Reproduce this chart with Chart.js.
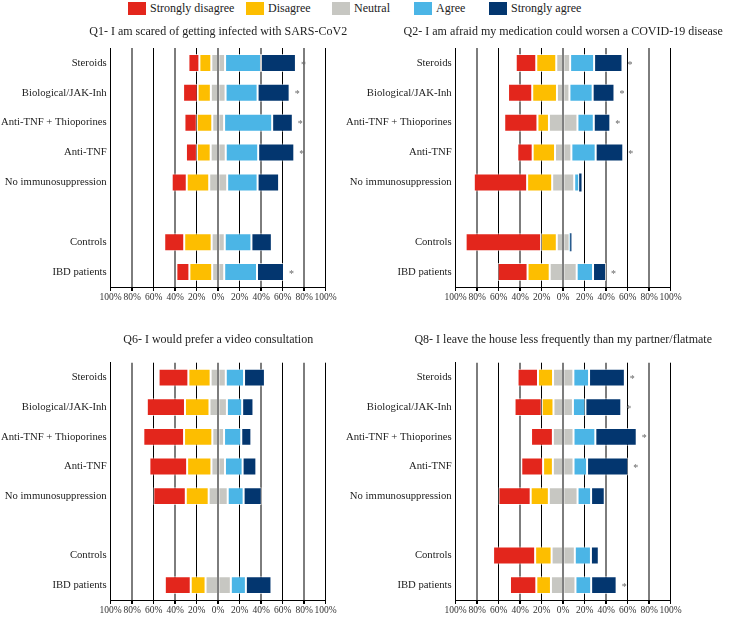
<!DOCTYPE html>
<html>
<head>
<meta charset="utf-8">
<script src="https://cdn.jsdelivr.net/npm/chart.js@4.4.1/dist/chart.umd.min.js"></script>
<style>
  body { margin: 0; background: #fff; width: 729px; height: 617px; position: relative; overflow: hidden; font-family: "Liberation Serif", "DejaVu Serif", serif; color: #222; }
  canvas { position: absolute; }
  .lg-box { position: absolute; top: 2px; width: 18px; height: 13px; }
  .lg-txt { position: absolute; top: 0px; font-size: 12px; line-height: 17px; white-space: nowrap; }
</style>
</head>
<body>
<div id="legend"></div>
<canvas id="q1" width="365" height="290" style="left:0;top:20px"></canvas>
<canvas id="q2" width="389" height="290" style="left:340px;top:20px"></canvas>
<canvas id="q6" width="365" height="297" style="left:0;top:320px"></canvas>
<canvas id="q8" width="389" height="297" style="left:340px;top:320px"></canvas>
<script>
// categories (blank row separates subgroups from the totals)
const categories = ['Steroids', 'Biological/JAK-Inh', 'Anti-TNF + Thioporines', 'Anti-TNF', 'No immunosuppression', '', 'Controls', 'IBD patients'];
const responses = ['Strongly disagree', 'Disagree', 'Neutral', 'Agree', 'Strongly agree'];
const xTicks = [-100, -80, -60, -40, -20, 0, 20, 40, 60, 80, 100];

// Q1 - scared of infection (%)
const q1StronglyDisagree = [10.2, 13.5, 11.5, 10.2, 14.0, null, 18.6, 12.1];
const q1Disagree         = [11.1, 12.3, 14.4, 12.8, 20.9, null, 25.5, 21.2];
const q1Neutral          = [12.8, 13.7, 11.0, 14.0, 16.7, null, 12.2, 11.2];
const q1Agree            = [33.4, 29.8, 44.7, 30.2, 28.3, null, 24.8, 30.5];
const q1StronglyAgree    = [32.5, 29.8, 19.2, 33.6, 20.0, null, 19.0, 25.1];
const q1Significant      = [true, true, true, true, false, false, false, true];

// Q2 - medication could worsen COVID-19 (%)
const q2StronglyDisagree = [19.1, 22.5, 30.9, 14.3, 49.6, null, 70.2, 27.7];
const q2Disagree         = [18.6, 23.0, 10.7, 20.8, 23.3, null, 14.6, 20.6];
const q2Neutral          = [12.9, 11.6, 26.5, 15.2, 20.5, null, 11.9, 25.1];
const q2Agree            = [22.3, 21.6, 15.2, 22.6, 4.6, null, 0.5, 15.2];
const q2StronglyAgree    = [26.4, 20.3, 15.4, 25.7, 2.2, null, 1.2, 12.1];
const q2Significant      = [true, true, true, true, false, false, false, true];

// Q6 - prefer a video consultation (%)
const q6StronglyDisagree = [27.7, 35.5, 37.9, 35.1, 30.2, null, null, 24.1];
const q6Disagree         = [20.7, 22.8, 26.3, 22.6, 21.3, null, null, 13.8];
const q6Neutral          = [14.1, 16.2, 10.9, 12.6, 17.7, null, null, 23.5];
const q6Agree            = [17.0, 14.2, 16.0, 16.4, 14.8, null, null, 14.0];
const q6StronglyAgree    = [19.4, 10.5, 9.4, 12.8, 16.8, null, null, 23.8];
const q6Significant      = [false, false, false, false, false, false, false, false];

// Q8 - leave the house less than partner/flatmate (%)
const q8StronglyDisagree = [19.0, 25.3, 20.3, 20.3, 30.0, null, 39.1, 24.5];
const q8Disagree         = [14.0, 10.9, 0, 9.1, 16.9, null, 15.3, 13.6];
const q8Neutral          = [18.9, 18.1, 19.2, 19.2, 26.7, null, 21.6, 22.8];
const q8Agree            = [14.6, 11.6, 20.3, 12.6, 12.6, null, 15.0, 14.6];
const q8StronglyAgree    = [33.3, 33.4, 38.5, 38.3, 12.7, null, 7.3, 23.7];
const q8Significant      = [true, true, true, true, false, false, false, true];

const colors = ['#e3261c', '#fdbe00', '#c7c7c2', '#4bb5e6', '#03366f'];
const FONT = '"Liberation Serif", "DejaVu Serif", serif';
Chart.defaults.font.family = FONT;
Chart.defaults.color = '#222';

// --- legend ---
const legendBoxX = [128, 246, 332, 414, 489];
const legend = document.getElementById('legend');
responses.forEach((r, i) => {
    const b = document.createElement('div');
    b.className = 'lg-box';
    b.style.left = legendBoxX[i] + 'px';
    b.style.background = colors[i];
    legend.appendChild(b);
    const t = document.createElement('div');
    t.className = 'lg-txt';
    t.style.left = (legendBoxX[i] + 22) + 'px';
    t.textContent = r;
    legend.appendChild(t);
});

// title centred over the plot area
const panelTitle = {
    id: 'panelTitle',
    afterDraw(chart, args, opts) {
        const { ctx, chartArea } = chart;
        ctx.save();
        ctx.font = '12px ' + FONT;
        ctx.fillStyle = '#222';
        ctx.textAlign = 'center';
        ctx.textBaseline = 'middle';
        ctx.fillText(opts.text, (chartArea.left + chartArea.right) / 2, opts.y);
        ctx.restore();
    }
};

// asterisk after significant rows
const starMarks = {
    id: 'starMarks',
    afterDatasetsDraw(chart, args, opts) {
        const { ctx } = chart;
        const meta = chart.getDatasetMeta(5);
        ctx.save();
        ctx.font = '10px ' + FONT;
        ctx.fillStyle = '#666';
        ctx.textAlign = 'left';
        ctx.textBaseline = 'middle';
        opts.flags.forEach((f, i) => {
            if (!f) return;
            const bar = meta.data[i];
            ctx.fillText('*', bar.x + 5, bar.y + 2);
        });
        ctx.restore();
    }
};

function makePanel(id, title, titleY, axisWidth, padRight, padTop, xHeight, padBottom, sd, d, n, a, sa, flags) {
    const neg = arr => arr.map(v => v == null ? null : -v);
    const half = (arr, s) => arr.map(v => v == null ? null : s * v / 2);
    const seg = (label, data, color, skip) => ({
        label, data,
        backgroundColor: color,
        borderColor: 'rgba(255,255,255,0.65)',
        borderWidth: c => (c.raw != null && Math.abs(c.raw) < 3) ? 0 : 1,
        borderSkipped: skip,
        stack: 's'
    });
    new Chart(document.getElementById(id), {
        type: 'bar',
        data: {
            labels: categories,
            datasets: [
                seg(responses[2], half(n, -1), colors[2], 'start'),
                seg(responses[1], neg(d), colors[1], false),
                seg(responses[0], neg(sd), colors[0], false),
                seg(responses[2], half(n, 1), colors[2], 'start'),
                seg(responses[3], a, colors[3], false),
                seg(responses[4], sa, colors[4], false)
            ]
        },
        options: {
            indexAxis: 'y',
            responsive: false,
            animation: false,
            devicePixelRatio: 1,
            layout: { padding: { left: 0, right: padRight, top: padTop, bottom: padBottom } },
            datasets: { bar: { categoryPercentage: 1, barPercentage: 0.6 } },
            scales: {
                x: {
                    stacked: true,
                    min: -100, max: 100,
                    afterBuildTicks: s => { s.ticks = xTicks.map(v => ({ value: v })); },
                    afterFit: s => { s.height = xHeight; },
                    ticks: {
                        autoSkip: false, maxRotation: 0, padding: 1,
                        font: { size: 9.5 }, color: '#333',
                        callback: v => Math.abs(v) + '%'
                    },
                    grid: {
                        color: c => (c.tick && c.tick.value % 40 === 0) ? '#7d7d7d' : '#000',
                        lineWidth: c => (c.tick && c.tick.value % 40 === 0) ? 2 : 1,
                        tickColor: '#000',
                        tickLength: 4
                    },
                    border: { color: '#000', width: 1 }
                },
                y: {
                    stacked: true,
                    afterFit: s => { s.width = axisWidth; },
                    ticks: { font: { size: 10.7 }, color: '#222', padding: 4 },
                    grid: { display: false, drawTicks: false },
                    border: { color: '#000', width: 1 }
                }
            },
            plugins: {
                legend: { display: false },
                tooltip: { enabled: false },
                panelTitle: { text: title, y: titleY },
                starMarks: { flags }
            }
        },
        plugins: [panelTitle, starMarks]
    });
}

makePanel('q1', 'Q1- I am scared of getting infected with SARS-CoV2', 12, 110.7, 39.3, 28, 22, 1,
    q1StronglyDisagree, q1Disagree, q1Neutral, q1Agree, q1StronglyAgree, q1Significant);
makePanel('q2', 'Q2- I am afraid my medication could worsen a COVID-19 disease', 12, 115.7, 58.3, 28, 22, 1,
    q2StronglyDisagree, q2Disagree, q2Neutral, q2Agree, q2StronglyAgree, q2Significant);
makePanel('q6', 'Q6- I would prefer a video consultation', 20, 110.7, 39.3, 42.7, 17, 0,
    q6StronglyDisagree, q6Disagree, q6Neutral, q6Agree, q6StronglyAgree, q6Significant);
makePanel('q8', 'Q8- I leave the house less frequently than my partner/flatmate', 20, 115.7, 58.3, 42.7, 17, 0,
    q8StronglyDisagree, q8Disagree, q8Neutral, q8Agree, q8StronglyAgree, q8Significant);
</script>
</body>
</html>
